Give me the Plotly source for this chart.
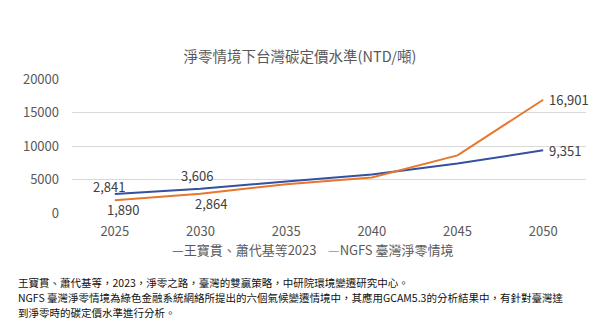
import plotly.graph_objects as go

# Data
years = ["2025", "2030", "2035", "2040", "2045", "2050"]
series_names = ["王寶貫、蕭代基等2023", "NGFS 臺灣淨零情境"]
wang_values = [2841, 3606, 4700, 5750, 7400, 9351]
ngfs_values = [1890, 2864, 4300, 5300, 8600, 16901]
y_ticks = [0, 5000, 10000, 15000, 20000]

title_text = "淨零情境下台灣碳定價水準(NTD/噸)"
footnote_lines = [
    "王寶貫、蕭代基等，2023，淨零之路，臺灣的雙贏策略，中研院環境變遷研究中心。",
    "NGFS 臺灣淨零情境為綠色金融系統網絡所提出的六個氣候變遷情境中，其應用GCAM5.3的分析結果中，有針對臺灣達",
    "到淨零時的碳定價水準進行分析。",
]

W, H = 600, 334
L, R, T, B = 72, 14, 79, 121
FONT = "Noto Sans CJK TC"
BLUE = "#34509E"
ORANGE = "#E8772E"
GRAY = "#595959"

fig = go.Figure()
series = [(series_names[0], wang_values, BLUE), (series_names[1], ngfs_values, ORANGE)]
for name, vals, color in series:
    fig.add_trace(go.Scatter(
        x=years, y=vals, mode="lines", name=name,
        line=dict(color=color, width=2), showlegend=False,
    ))

# value labels: (series index, point index, xanchor, yanchor, xshift, yshift)
label_spec = [
    (0, 0, "center", "bottom", -6, -4),
    (0, 1, "center", "bottom", -4, 2),
    (0, 5, "left", "middle", 4, 0),
    (1, 0, "center", "top", 8, 2),
    (1, 1, "center", "top", 10, 2),
    (1, 5, "left", "middle", 4, 0),
]
annotations = []
for si, pi, xa, ya, dx, dy in label_spec:
    vals = series[si][1]
    annotations.append(dict(
        x=pi, y=vals[pi], xref="x", yref="y",
        text=f"{vals[pi]:,}", showarrow=False,
        xanchor=xa, yanchor=ya, xshift=dx, yshift=dy,
        font=dict(family=FONT, size=13, color="#404040"),
    ))


def px_x(p):
    return (p - L) / (W - L - R)


def px_y(p):
    return 1 - (p - T) / (H - T - B)


# custom legend row
legend_y = 249
legend_items = [(series_names[0], BLUE, 170), (series_names[1], ORANGE, 326)]
for name, color, x0 in legend_items:
    annotations.append(dict(
        x=px_x(x0), y=px_y(legend_y), xref="paper", yref="paper",
        text=f"<span style='color:{color}'>—</span>{name}", showarrow=False,
        xanchor="left", yanchor="middle",
        font=dict(family=FONT, size=13, color=GRAY),
    ))

# footnote lines
for i, line in enumerate(footnote_lines):
    annotations.append(dict(
        x=px_x(16), y=px_y(282 + i * 15.3), xref="paper", yref="paper",
        text=line, showarrow=False, xanchor="left", yanchor="middle",
        font=dict(family=FONT, size=10.5, color="#111111"),
    ))

fig.update_layout(
    width=W, height=H,
    margin=dict(l=L, r=R, t=T, b=B),
    paper_bgcolor="white", plot_bgcolor="white",
    title=dict(text=title_text, x=0.5, xanchor="center", y=1 - 57 / H, yanchor="middle",
               font=dict(family=FONT, size=14.5, color=GRAY)),
    xaxis=dict(type="category", range=[-0.5, 5.5], showgrid=False, showline=False,
               ticks="", ticklabelstandoff=9,
               tickfont=dict(family=FONT, size=13, color=GRAY)),
    yaxis=dict(range=[0, 20000], tickvals=y_ticks, ticktext=[str(v) for v in y_ticks],
               showgrid=True, gridcolor="#D9D9D9", gridwidth=1, zeroline=False,
               showline=False, ticks="", ticklabelstandoff=12,
               tickfont=dict(family=FONT, size=13, color=GRAY)),
    annotations=annotations,
    showlegend=False,
)

fig.write_html("out.html")
